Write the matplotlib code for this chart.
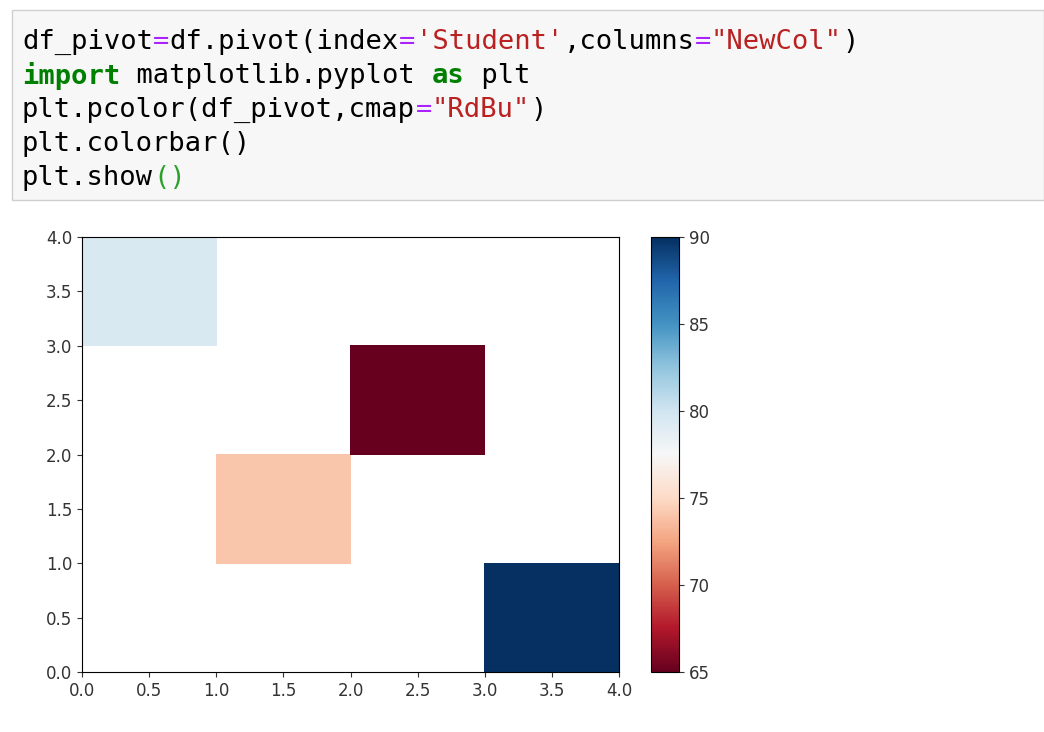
import matplotlib
matplotlib.use('Agg')
import matplotlib.pyplot as plt
import numpy as np
from matplotlib.patches import Rectangle

# cell values (rows = Student index, cols = NewCol), NaN = empty
row0 = [np.nan, np.nan, np.nan, 90.0]
row1 = [np.nan, 74.0, np.nan, np.nan]
row2 = [np.nan, np.nan, 65.0, np.nan]
row3 = [79.5, np.nan, np.nan, np.nan]
grid = np.ma.masked_invalid(np.array([row0, row1, row2, row3]))
vmin, vmax = 65, 90

W, H = 1044, 732
fig = plt.figure(figsize=(W / 100, H / 100), dpi=100, facecolor='white')

# code cell box
fig.patches.append(Rectangle((12 / W, 1 - 200 / H), (W - 12) / W, 190 / H,
                             transform=fig.transFigure, facecolor='#f7f7f7',
                             edgecolor='#cfcfcf', linewidth=1))

EQ, STR, KW, PAR, TXT = '#aa22ff', '#ba2121', '#008000', '#2ca02c', 'black'
code_lines = [
    [("df_pivot", TXT), ("=", EQ), ("df.pivot(index", TXT), ("=", EQ), ("'Student'", STR),
     (",columns", TXT), ("=", EQ), ('"NewCol"', STR), (")", TXT)],
    [("import", KW), (" matplotlib.pyplot ", TXT), ("as", KW), (" plt", TXT)],
    [("plt.pcolor(df_pivot,cmap", TXT), ("=", EQ), ('"RdBu"', STR), (")", TXT)],
    [("plt.colorbar()", TXT)],
    [("plt.show", TXT), ("()", PAR)],
]
char_w = 16.4
for li, parts in enumerate(code_lines):
    y = 1 - (42 + li * 34) / H
    col = 0
    for s, c in parts:
        fig.text((22 + col * char_w) / W, y, s, color=c, family='DejaVu Sans Mono',
                 fontsize=19.5, va='center', ha='left',
                 fontweight='bold' if c == KW else 'normal')
        col += len(s)

ax = fig.add_axes([82 / W, 1 - 672 / H, (619 - 82) / W, (672 - 237) / H])
mesh = ax.pcolor(grid, cmap='RdBu', vmin=vmin, vmax=vmax)
ax.set_xticks(np.arange(0, 4.01, 0.5))
ax.set_yticks(np.arange(0, 4.01, 0.5))
ax.tick_params(labelsize=12, colors='#333333')

cax = fig.add_axes([651 / W, 1 - 672 / H, 28 / W, (672 - 237) / H])
cb = fig.colorbar(mesh, cax=cax)
cb.set_ticks([65, 70, 75, 80, 85, 90])
cb.ax.tick_params(labelsize=12, colors='#333333')

fig.savefig('out.png', dpi=100)
